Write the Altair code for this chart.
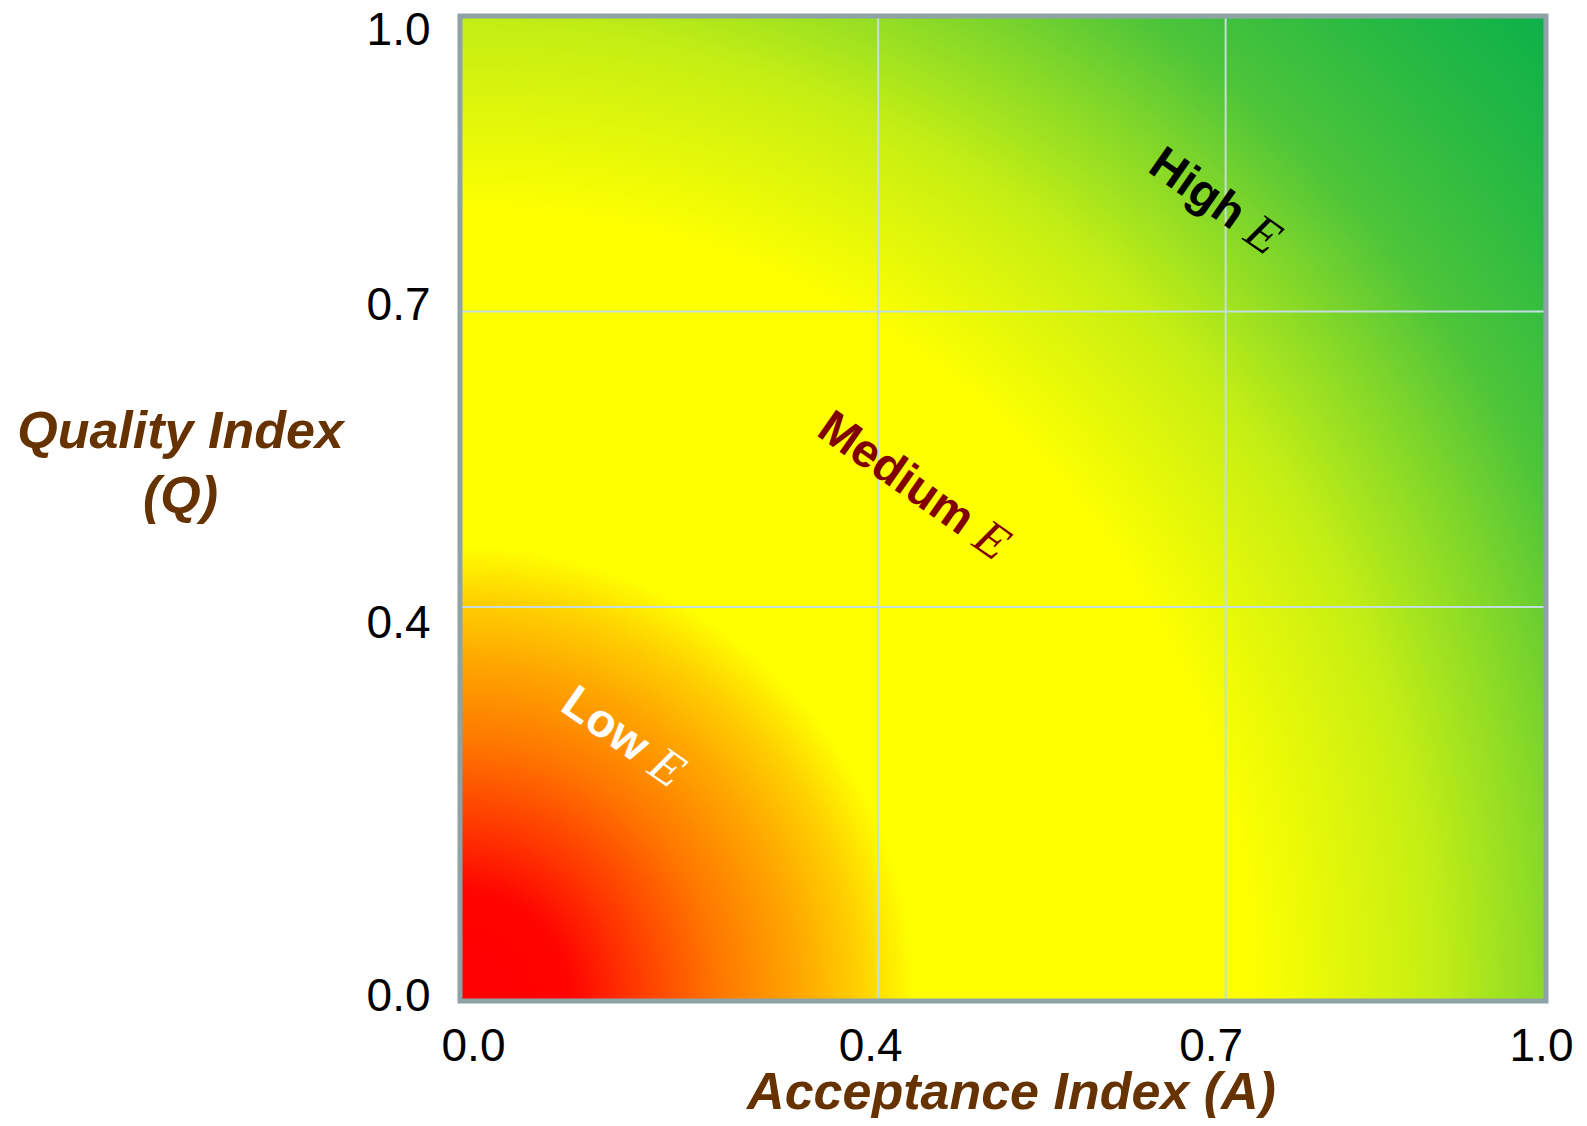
import altair as alt
import pandas as pd

# ---------------- data ----------------
tick_values = [0.0, 0.4, 0.7, 1.0]          # axis tick labels (both axes)
grid_values = [0.4, 0.7]                    # interior grid lines
field_a0 = [0.0]; field_a1 = [1.0]          # extent of the coloured field (A)
field_q0 = [0.0]; field_q1 = [1.0]          # extent of the coloured field (Q)

# radial colour field, distance from the (0,0) corner in plot pixels -> colour
grad_dist_px = [0, 110, 180, 260, 335, 400, 455, 790, 975, 1030, 1095, 1200, 1320, 1466]
grad_colors = ["#ff0000", "#ff0400", "#ff3c00", "#ff7800", "#ffa400", "#ffd000",
               "#ffff00", "#ffff00", "#c4ee14", "#a6e41e", "#86d828", "#4dc43a",
               "#2cba42", "#0cb04a"]

ann_words = ["High", "Medium", "Low"]
ann_symbol = ["E", "E", "E"]
ann_a = [0.69, 0.43, 0.155]
ann_q = [0.812, 0.523, 0.268]

# ---------------- style ----------------
W, H = 1086, 985
x_tick_frac = [0.0, 0.385, 0.705, 1.0]      # where the x ticks sit along the axis
SANS = "Liberation Sans"
SERIF = "Liberation Serif"
BROWN = "#663300"
FRAME = "#8fa3a6"
GRID = "#c4dde0"
ann_colors = ["#000000", "#800000", "#ffffff"]
ANN_SIZE = 47
ANGLE = 35

# Arial-bold / Times-italic advance widths (per 1000 em)
arial_bold = {"H": 722, "i": 278, "g": 611, "h": 611, "M": 833, "e": 556, "d": 611,
              "u": 611, "m": 889, "L": 611, "o": 611, "w": 778, " ": 278}
times_italic = {"E": 611}

xscale = alt.Scale(domain=tick_values, range=[f * W for f in x_tick_frac], nice=False, zero=False)
yscale = alt.Scale(domain=[0, 1], nice=False, zero=False)

R = 1470.0
S = max(W, H)
cy = (H + (S - H) / 2) / S
gradient = {
    "gradient": "radial",
    "x1": 0, "y1": cy, "r1": 0,
    "x2": 0, "y2": cy, "r2": R / S,
    "stops": [{"offset": min(d / R, 1.0), "color": c} for d, c in zip(grad_dist_px, grad_colors)],
}

field = pd.DataFrame({"a0": field_a0, "a1": field_a1, "q0": field_q0, "q1": field_q1})

x_axis = alt.Axis(
    values=tick_values, format=".1f", grid=False, ticks=False, domain=False,
    labelFont=SANS, labelFontSize=46, labelColor="#000000", labelPadding=23,
    labelBaseline="top", labelAlign="center",
    labelOffset={"expr": "datum.value == 0 ? 13 : datum.value == 0.4 ? -8 : datum.value == 0.7 ? -15 : -5"},
    title="Acceptance Index (A)", titleFont=SANS, titleFontSize=52, titleFontWeight="bold",
    titleFontStyle="italic", titleColor=BROWN, titleX=551, titleY=107,
    titleAlign="center", titleBaseline="alphabetic",
)
y_axis = alt.Axis(
    values=tick_values, format=".1f", grid=False, ticks=False, domain=False,
    labelFont=SANS, labelFontSize=46, labelColor="#000000", labelPadding=30,
    labelBaseline="middle", labelAlign="right",
    labelOffset={"expr": "datum.value == 1 ? 14 : datum.value == 0.7 ? -6 : datum.value == 0.4 ? 16 : -5"},
    title=["Quality Index", "(Q)"], titleFont=SANS, titleFontSize=52, titleFontWeight="bold",
    titleFontStyle="italic", titleColor=BROWN, titleAngle=0, titleX=-280, titleY=431,
    titleAlign="center", titleBaseline="alphabetic", titleLineHeight=65,
)

base_field = alt.Chart(field).mark_rect(fill=gradient, strokeWidth=0).encode(
    x=alt.X("a0:Q", scale=xscale, axis=x_axis),
    x2="a1:Q",
    y=alt.Y("q0:Q", scale=yscale, axis=y_axis),
    y2="q1:Q",
)

vgrid = alt.Chart(pd.DataFrame({"g": grid_values})).mark_rule(color=GRID, strokeWidth=2).encode(
    x=alt.X("g:Q", scale=xscale))
hgrid = alt.Chart(pd.DataFrame({"g": grid_values})).mark_rule(color=GRID, strokeWidth=2).encode(
    y=alt.Y("g:Q", scale=yscale))

frame = alt.Chart(field).mark_rect(filled=False, stroke=FRAME, strokeWidth=5).encode(
    x=alt.X("a0:Q", scale=xscale), x2="a1:Q",
    y=alt.Y("q0:Q", scale=yscale), y2="q1:Q",
)

layers = [base_field, vgrid, hgrid, frame]
for i, word in enumerate(ann_words):
    w_word = sum(arial_bold[c] for c in word) / 1000 * ANN_SIZE
    gap = arial_bold[" "] / 1000 * ANN_SIZE
    w_sym = sum(times_italic[c] for c in ann_symbol[i]) / 1000 * ANN_SIZE
    total = w_word + gap + w_sym
    word_end = -total / 2 + w_word
    sym_start = word_end + gap
    row = pd.DataFrame({"a": [ann_a[i]], "q": [ann_q[i]], "word": [word], "sym": [ann_symbol[i]]})
    enc = dict(x=alt.X("a:Q", scale=xscale), y=alt.Y("q:Q", scale=yscale))
    layers.append(alt.Chart(row).mark_text(
        font=SANS, fontWeight="bold", fontSize=ANN_SIZE, color=ann_colors[i],
        align="right", baseline="middle", angle=ANGLE, dx=word_end,
    ).encode(text="word:N", **enc))
    layers.append(alt.Chart(row).mark_text(
        font=SERIF, fontStyle="italic", fontSize=ANN_SIZE + 3, color=ann_colors[i],
        align="left", baseline="middle", angle=ANGLE, dx=sym_start,
    ).encode(text="sym:N", **enc))

chart = alt.layer(*layers).properties(
    width=W, height=H,
    autosize=alt.AutoSizeParams(type="none"),
    padding={"left": 452, "top": 8, "right": 31, "bottom": 117},
    background="#ffffff",
).configure_view(stroke=None)

chart.save("out.html", embed_options={"renderer": "svg", "actions": False})
